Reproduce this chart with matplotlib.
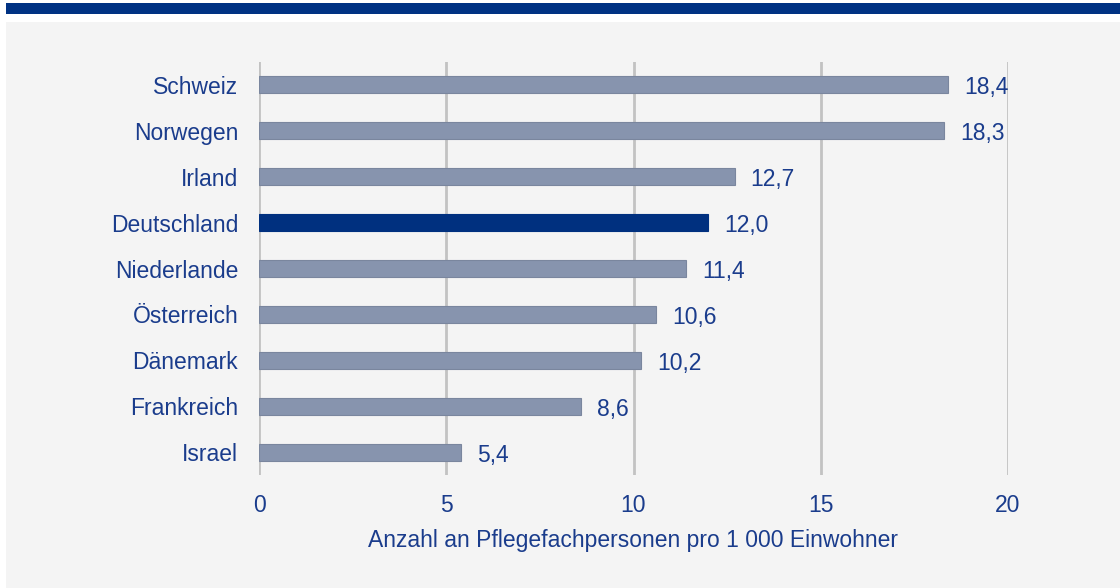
import matplotlib
matplotlib.use("Agg")
import matplotlib.pyplot as plt
from matplotlib.patches import Rectangle

countries = ["Schweiz", "Norwegen", "Irland", "Deutschland", "Niederlande",
             "Österreich", "Dänemark", "Frankreich", "Israel"]
values = [18.4, 18.3, 12.7, 12.0, 11.4, 10.6, 10.2, 8.6, 5.4]
labels = ["18,4", "18,3", "12,7", "12,0", "11,4", "10,6", "10,2", "8,6", "5,4"]
xticks = [0, 5, 10, 15, 20]
xlabel = "Anzahl an Pflegefachpersonen pro 1 000 Einwohner"

W, H = 1120, 588
plt.rcParams['font.family'] = ['Liberation Sans', 'DejaVu Sans']
txt_color = "#1a3c8c"
bar_color = "#8794ae"
hi_color = "#00307f"
fs = 16.5

fig = plt.figure(figsize=(W / 100, H / 100), dpi=100)
fig.patch.set_facecolor("white")
fig.add_artist(Rectangle((6 / W, 0), 1 - 6 / W, (H - 22) / H, transform=fig.transFigure,
                         facecolor="#f4f4f4", edgecolor="none", zorder=-5))
fig.add_artist(Rectangle((6 / W, (H - 14) / H), 1 - 6 / W, 11 / H, transform=fig.transFigure,
                         facecolor="#003283", edgecolor="none", zorder=-5))

ax = fig.add_axes([259 / W, (H - 475) / H, (1008 - 259) / W, (475 - 62) / H])
ax.set_zorder(2)
ax.set_facecolor("none")
ypos = list(range(len(countries)))
colors = [hi_color if c == "Deutschland" else bar_color for c in countries]
edges = ["#00307f" if c == "Deutschland" else "#7a869e" for c in countries]
ax.barh(ypos, values, height=0.37, color=colors, edgecolor=edges, linewidth=0.8, zorder=3)
for y, v, l in zip(ypos, values, labels):
    ax.annotate(l, (v, y), xytext=(16, -3), textcoords="offset pixels",
                va="center", ha="left", fontsize=fs, color=txt_color)
ax.set_xlim(0, 20)
ax.set_ylim(len(countries) - 0.5, -0.5)
ax.set_yticks(ypos)
ax.set_yticklabels(countries, fontsize=fs, color=txt_color)
ax.set_xticks(xticks)
ax.set_xticklabels([str(t) for t in xticks], fontsize=fs, color=txt_color)
ax.tick_params(axis="both", length=0)
ax.tick_params(axis="y", pad=15)
ax.tick_params(axis="x", pad=14)
ax.grid(axis="x", color="#c2c2c2", linewidth=2, zorder=0)
for s in ax.spines.values():
    s.set_visible(False)
ax.set_xlabel(xlabel, fontsize=fs, color=txt_color, labelpad=8)

fig.savefig("out.png", dpi=100, facecolor=fig.get_facecolor())
